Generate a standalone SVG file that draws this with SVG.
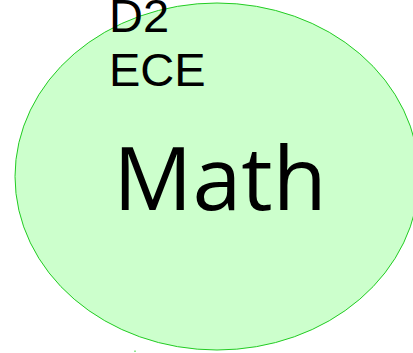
<svg xmlns="http://www.w3.org/2000/svg" width="413" height="353" viewBox="0 0 413 353">
<style>
.node{fill:#ccffcc;stroke:#22cc22;stroke-width:1}
.lbl{font-family:"Liberation Sans",Arial,sans-serif;font-size:47px;fill:#000}
.big{font-family:"Open Sans","Noto Sans",sans-serif;font-size:88px;fill:#000}
</style>
<rect width="413" height="353" fill="#ffffff"/>
<g id="math">
<ellipse class="node" cx="217" cy="176.5" rx="202" ry="173.5"/>
<text class="big" x="220" y="210" text-anchor="middle">Math</text>
</g>
<g id="labels">
<text class="lbl" x="109" y="32">D2</text>
<text class="lbl" x="109" y="86">ECE</text>
</g>
<g id="connectors">
<line x1="135" y1="350.5" x2="135" y2="352" stroke="#22cc22" stroke-width="1"/>
</g>
</svg>
